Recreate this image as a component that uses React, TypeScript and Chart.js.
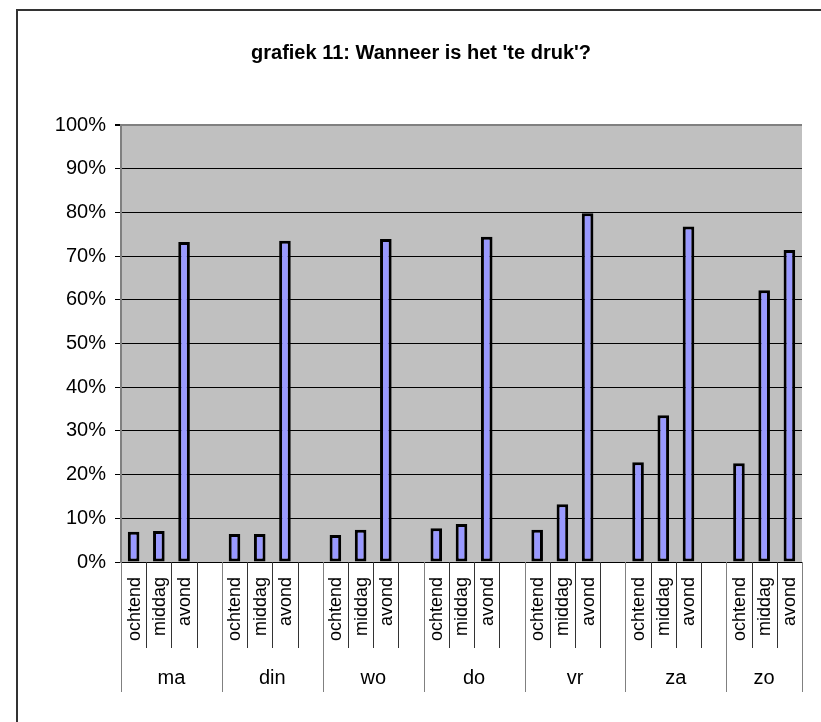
import React, { useEffect, useRef } from 'react';
import { Chart, registerables } from 'chart.js';

Chart.register(...registerables);

const TITLE = "grafiek 11: Wanneer is het 'te druk'?";
const days = ['ma', 'din', 'wo', 'do', 'vr', 'za', 'zo'];
const periods = ['ochtend', 'middag', 'avond'];
const ochtend = [6.9, 6.4, 6.2, 7.7, 7.4, 22.8, 22.6];
const middag = [7.1, 6.4, 7.4, 8.7, 13.2, 33.6, 62.2];
const avond = [73.2, 73.5, 73.9, 74.4, 79.8, 76.8, 71.4];
const yMin = 0;
const yMax = 100;
const yStep = 10;

const FONT = '"Liberation Sans", Arial, Helvetica, sans-serif';

export default function App() {
  const ref = useRef<HTMLCanvasElement>(null);

  useEffect(() => {
    const canvas = ref.current;
    if (!canvas) return;

    const labels: string[] = [];
    const values: (number | null)[] = [];
    const series = [ochtend, middag, avond];
    const dayStarts: number[] = [];
    days.forEach((d, i) => {
      dayStarts.push(labels.length);
      periods.forEach((p, j) => {
        labels.push(p);
        values.push(series[j][i]);
      });
      if (i < days.length - 1) {
        labels.push('');
        values.push(null);
      }
    });

    const bgPlugin = {
      id: 'bgPlugin',
      beforeDraw(chart: any) {
        const { ctx, chartArea: a } = chart;
        ctx.save();
        ctx.fillStyle = '#ffffff';
        ctx.fillRect(0, 0, chart.width, chart.height);
        ctx.strokeStyle = '#333333';
        ctx.lineWidth = 2;
        ctx.strokeRect(17, 10, chart.width + 40, chart.height + 40);
        ctx.fillStyle = '#C0C0C0';
        ctx.fillRect(a.left, a.top, a.right - a.left, a.bottom - a.top);
        ctx.restore();
      },
    };

    const xLabelPlugin = {
      id: 'xLabelPlugin',
      afterDraw(chart: any) {
        const { ctx } = chart;
        const xs = chart.scales.x;
        const base = chart.chartArea.bottom;
        const n = labels.length;
        const slot = xs.getPixelForValue(1) - xs.getPixelForValue(0);
        const boundary = (k: number) =>
          k < n ? xs.getPixelForValue(k) - slot / 2 : xs.getPixelForValue(n - 1) + slot / 2;
        ctx.save();
        ctx.lineWidth = 1;
        for (let k = 0; k <= n; k++) {
          const isDay = dayStarts.includes(k) || k === n;
          const x = Math.round(boundary(k)) + 0.5;
          ctx.strokeStyle = isDay ? '#808080' : '#333333';
          ctx.beginPath();
          ctx.moveTo(x, base);
          ctx.lineTo(x, base + (isDay ? 130 : 86));
          ctx.stroke();
        }
        ctx.fillStyle = '#000000';
        ctx.font = `18px ${FONT}`;
        ctx.textAlign = 'right';
        ctx.textBaseline = 'middle';
        labels.forEach((lab, k) => {
          if (!lab) return;
          const x = xs.getPixelForValue(k);
          ctx.save();
          ctx.translate(x + 1, base + 15);
          ctx.rotate(-Math.PI / 2);
          ctx.fillText(lab, 0, 0);
          ctx.restore();
        });
        ctx.textAlign = 'center';
        ctx.font = `20px ${FONT}`;
        days.forEach((d, i) => {
          const s = boundary(dayStarts[i]);
          const e = boundary(i < days.length - 1 ? dayStarts[i + 1] : n);
          ctx.fillText(d, (s + e) / 2, base + 116);
        });
        ctx.restore();
      },
    };

    const chart = new Chart(canvas, {
      type: 'bar',
      data: {
        labels,
        datasets: [
          {
            data: values,
            backgroundColor: '#9999FF',
            borderColor: '#000000',
            borderWidth: 3,
            borderSkipped: false,
            categoryPercentage: 1,
            barPercentage: 0.46,
          },
        ],
      },
      options: {
        responsive: false,
        animation: false,
        events: [],
        layout: { padding: { left: 40, right: 19, top: 0, bottom: 160 } },
        plugins: {
          legend: { display: false },
          tooltip: { enabled: false },
          title: {
            display: true,
            text: TITLE,
            color: '#000000',
            font: { family: FONT, size: 20, weight: 'bold', lineHeight: 1.2 },
            padding: { top: 41, bottom: 60 },
          },
        },
        scales: {
          x: {
            type: 'category',
            offset: true,
            display: false,
            grid: { display: false },
          },
          y: {
            min: yMin,
            max: yMax,
            afterFit(scale: any) {
              scale.width = 81;
            },
            ticks: {
              stepSize: yStep,
              color: '#000000',
              padding: 9,
              font: { family: FONT, size: 20 },
              callback: (v: any) => `${v}%`,
            },
            grid: {
              color: (c: any) => (c.tick && c.tick.value === yMax ? '#808080' : '#000000'),
              lineWidth: (c: any) => (c.tick && c.tick.value === yMax ? 2 : 1),
              tickColor: '#000000',
              tickLength: 6,
            },
            border: { display: true, color: '#808080', width: 2 },
          },
        },
      },
      plugins: [bgPlugin, xLabelPlugin],
    });

    return () => chart.destroy();
  }, []);

  return (
    <div style={{ position: 'absolute', left: 0, top: 0, width: 821, height: 722 }}>
      <canvas ref={ref} width={821} height={722} style={{ display: 'block' }} />
    </div>
  );
}
